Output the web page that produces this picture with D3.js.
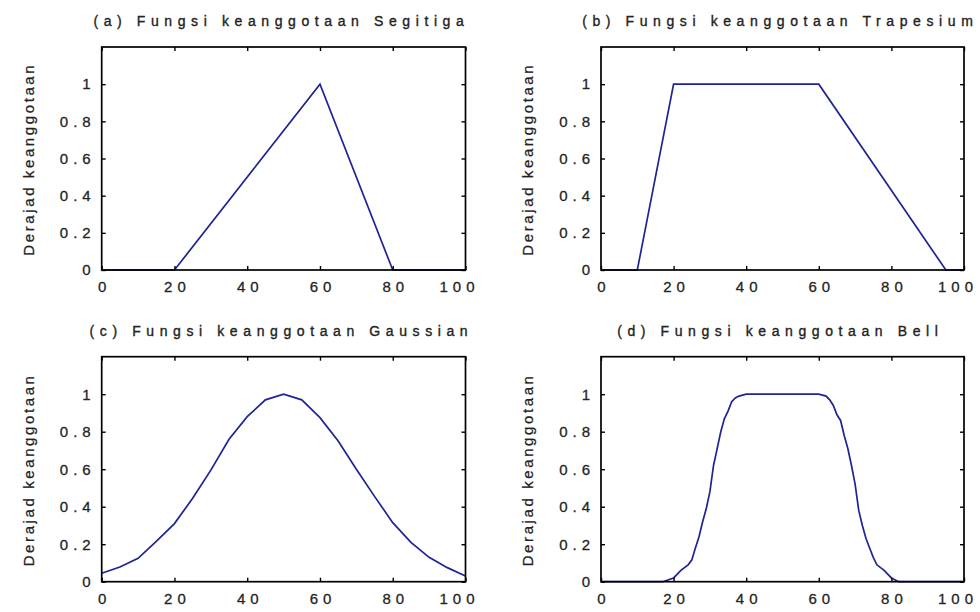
<!DOCTYPE html>
<html>
<head>
<meta charset="utf-8">
<script src="https://cdn.jsdelivr.net/npm/d3@7"></script>
<style>
  body { margin: 0; background: #fff; }
  svg { display: block; }
  text { font-family: "Liberation Sans", Arial, sans-serif; fill: #222; }
</style>
</head>
<body>
<svg width="980" height="612"></svg>
<script>
// titles of the four panels
const titles = [
  "(a) Fungsi keanggotaan Segitiga",
  "(b) Fungsi keanggotaan Trapesium",
  "(c) Fungsi keanggotaan Gaussian",
  "(d) Fungsi keanggotaan Bell"
];
const yLabel = "Derajad keanggotaan";

const xTicks = [0, 20, 40, 60, 80, 100];
const xTickLabels = ["0", "20", "40", "60", "80", "100"];
const yTicks = [0, 0.2, 0.4, 0.6, 0.8, 1];
const yTickLabels = ["0", "0.2", "0.4", "0.6", "0.8", "1"];

// (a) segitiga
const xTri = [0, 20, 60, 80, 100];
const yTri = [0, 0, 1, 0, 0];

// (b) trapesium
const xTrap = [0, 10, 20, 60, 95, 100];
const yTrap = [0, 0, 1, 1, 0, 0];

// (c) gaussian
const xGauss = [0, 5, 10, 15, 20, 25, 30, 35, 40, 45, 50, 55, 60, 65, 70, 75, 80, 85, 90, 95, 100];
const yGauss = [0.045, 0.078, 0.125, 0.215, 0.31, 0.445, 0.595, 0.76, 0.88, 0.97, 1.0,
                0.97, 0.875, 0.75, 0.6, 0.455, 0.315, 0.21, 0.13, 0.075, 0.03];

// (d) bell
const xBell = [0, 17, 20, 22, 24, 25, 26, 27, 28, 29, 30, 31, 32, 33, 34, 35, 36, 37, 38, 40,
               60, 62, 63, 64, 65, 66, 67, 68, 69, 70, 71, 72, 73, 74, 75, 76, 78, 80, 82, 100];
const yBell = [0, 0, 0.02, 0.06, 0.09, 0.115, 0.18, 0.24, 0.32, 0.39, 0.48, 0.62, 0.71, 0.8, 0.87, 0.91, 0.96, 0.98, 0.99, 1,
               1, 0.99, 0.97, 0.94, 0.89, 0.86, 0.78, 0.71, 0.62, 0.52, 0.38, 0.3, 0.23, 0.18, 0.13, 0.09, 0.06, 0.02, 0, 0];

const series = [
  { xs: xTri, ys: yTri },
  { xs: xTrap, ys: yTrap },
  { xs: xGauss, ys: yGauss },
  { xs: xBell, ys: yBell }
];

// panel boxes
const panels = [
  { left: 101.7, right: 465.5, top: 47, bottom: 270 },
  { left: 601, right: 964, top: 47, bottom: 270 },
  { left: 101.7, right: 465.5, top: 356.7, bottom: 581.7 },
  { left: 601, right: 964, top: 356.7, bottom: 581.7 }
];

const svg = d3.select("svg");
const lineColor = "#1f2394";
const tickLen = 4;
const tickSpacing = 5;

panels.forEach((p, i) => {
  const x = d3.scaleLinear().domain([0, 100]).range([p.left, p.right]);
  const y = d3.scaleLinear().domain([0, 1.2]).range([p.bottom, p.top]);
  const g = svg.append("g");

  // curve
  const pts = series[i].xs.map((v, k) => [v, series[i].ys[k]]);
  g.append("path")
    .datum(pts)
    .attr("fill", "none")
    .attr("stroke", lineColor)
    .attr("stroke-width", 1.7)
    .attr("d", d3.line().x(d => x(d[0])).y(d => y(d[1])));

  // inward ticks on all four sides
  const bottomAxis = d3.axisBottom(x).tickValues(xTicks)
    .tickFormat((d, k) => xTickLabels[k]).tickSize(-tickLen).tickPadding(19);
  const topAxis = d3.axisTop(x).tickValues(xTicks).tickFormat("").tickSize(-tickLen);
  const leftAxis = d3.axisLeft(y).tickValues(yTicks)
    .tickFormat((d, k) => yTickLabels[k]).tickSize(-tickLen).tickPadding(11);
  const rightAxis = d3.axisRight(y).tickValues(yTicks).tickFormat("").tickSize(-tickLen);

  const gb = g.append("g").attr("transform", `translate(0,${p.bottom})`).call(bottomAxis);
  const gt = g.append("g").attr("transform", `translate(0,${p.top})`).call(topAxis);
  const gl = g.append("g").attr("transform", `translate(${p.left},0)`).call(leftAxis);
  const gr = g.append("g").attr("transform", `translate(${p.right},0)`).call(rightAxis);

  [gb, gt, gl, gr].forEach(a => {
    a.select(".domain").remove();
    a.selectAll("line").attr("stroke", "#000").attr("stroke-width", 1.4);
    a.selectAll("text")
      .style("font-family", '"Liberation Sans", Arial, sans-serif')
      .style("font-size", "15px")
      .style("letter-spacing", tickSpacing + "px")
      .attr("fill", "#2a2a2a")
      .attr("stroke", "#2a2a2a")
      .attr("stroke-width", 0.3);
  });
  // last label sits a little left of its tick, as in the original
  gb.selectAll("text")
    .attr("dx", (d, k) => tickSpacing / 2 - (k === xTicks.length - 1 ? 9 : 0))
    .attr("dy", "0.2em");
  gl.selectAll("text").attr("dx", tickSpacing);

  // frame
  g.append("rect")
    .attr("x", p.left).attr("y", p.top)
    .attr("width", p.right - p.left).attr("height", p.bottom - p.top)
    .attr("fill", "none").attr("stroke", "#000").attr("stroke-width", 1.7);

  // title
  g.append("text")
    .attr("x", (p.left + p.right) / 2 - 5 + 2.8)
    .attr("y", p.top - 21)
    .attr("text-anchor", "middle")
    .attr("stroke", "#222")
    .attr("stroke-width", 0.35)
    .style("font-size", "14px")
    .style("letter-spacing", "5.6px")
    .text(titles[i]);

  // y label
  const cy = (p.top + p.bottom) / 2 + 2;
  const lx = p.left - 68;
  g.append("text")
    .attr("transform", `translate(${lx},${cy}) rotate(-90)`)
    .attr("text-anchor", "middle")
    .attr("dx", 1.3)
    .attr("stroke", "#222")
    .attr("stroke-width", 0.25)
    .style("font-size", "15px")
    .style("letter-spacing", "2.6px")
    .text(yLabel);
});
</script>
</body>
</html>
